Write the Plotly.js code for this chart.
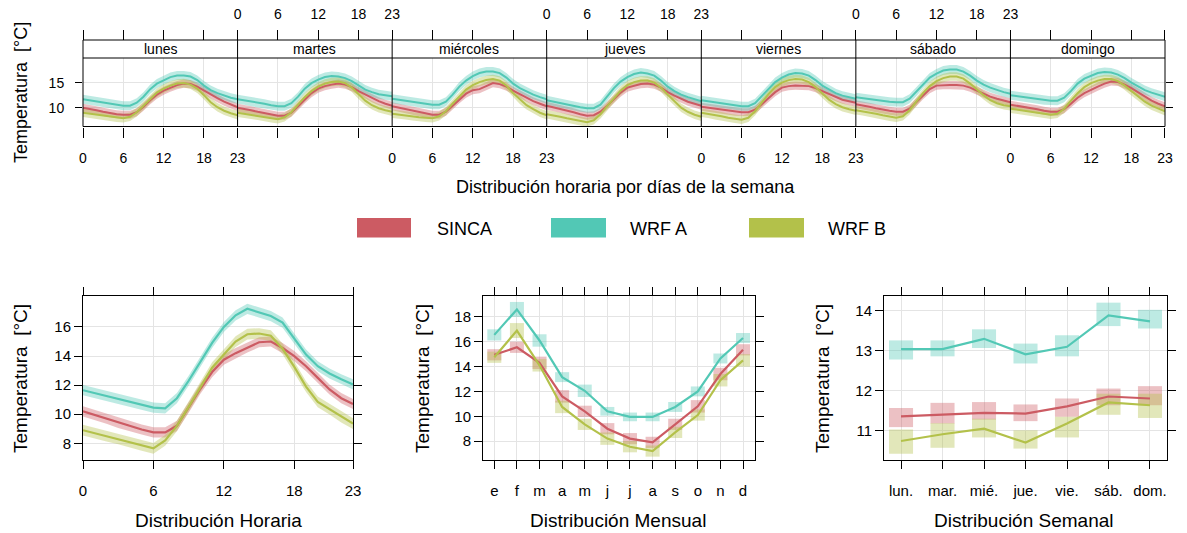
<!DOCTYPE html>
<html><head><meta charset="utf-8">
<script src="https://cdn.plot.ly/plotly-3.0.1.min.js"></script>
<style>html,body{margin:0;padding:0;background:#fff}#chart{width:1187px;height:533px}</style>
</head><body><div id="chart"></div>
<script>
// ---------------- data ----------------
const hours = [0,1,2,3,4,5,6,7,8,9,10,11,12,13,14,15,16,17,18,19,20,21,22,23];
const dayNames = ['lunes','martes','miércoles','jueves','viernes','sábado','domingo'];
const seriesNames = ['SINCA','WRF A','WRF B'];
const seriesColors = ['#CC5B63','#52C8B5','#B3C14A'];
const bandColors = ['rgba(204,91,99,0.38)','rgba(82,200,181,0.38)','rgba(179,193,74,0.38)'];

// hourly values per weekday (top panel)
const lunesSINCA = [10.0,9.8,9.5,9.2,8.9,8.7,8.6,8.6,9.1,10.2,11.5,12.6,13.4,14.0,14.5,14.8,14.7,14.2,13.4,12.6,11.9,11.2,10.6,10.1];
const lunesWRFA  = [11.7,11.5,11.3,11.0,10.8,10.6,10.4,10.4,11.0,12.2,13.7,14.8,15.5,16.1,16.4,16.4,16.2,15.5,14.4,13.5,12.9,12.4,12.0,11.7];
const lunesWRFB  = [9.0,8.8,8.6,8.4,8.2,8.0,7.9,8.2,9.1,10.4,11.8,13.0,13.8,14.4,14.8,14.9,14.6,13.8,12.5,11.1,10.1,9.4,8.9,8.5];
const martesSINCA = [10.0,9.8,9.5,9.2,8.9,8.6,8.4,8.4,9.0,10.3,11.7,12.9,13.8,14.3,14.6,14.8,14.6,14.1,13.3,12.6,11.9,11.3,10.8,10.4];
const martesWRFA  = [11.7,11.5,11.2,11.0,10.8,10.5,10.3,10.3,10.9,12.2,13.8,14.9,15.6,16.1,16.3,16.2,15.9,15.3,14.4,13.6,13.1,12.7,12.5,12.3];
const martesWRFB  = [9.0,8.8,8.6,8.4,8.2,7.9,7.7,8.1,9.1,10.6,12.1,13.3,14.2,14.8,15.1,15.2,14.9,14.0,12.6,11.4,10.5,9.9,9.5,9.2];
const miercolesSINCA = [10.3,10.0,9.7,9.4,9.1,8.8,8.6,8.6,9.2,10.4,11.7,12.8,13.5,13.7,14.3,14.9,14.7,14.2,13.4,12.7,12.0,11.3,10.8,10.3];
const miercolesWRFA  = [11.8,11.6,11.4,11.2,11.0,10.8,10.6,10.6,11.2,12.6,14.2,15.4,16.3,16.9,17.2,17.2,16.9,16.0,14.8,13.9,13.2,12.6,12.1,11.7];
const miercolesWRFB  = [8.8,8.6,8.5,8.3,8.1,8.0,7.9,8.3,9.3,10.8,12.3,13.6,14.5,15.1,15.5,15.7,15.4,14.4,12.9,11.6,10.5,9.7,9.0,8.5];
const juevesSINCA = [10.4,10.1,9.8,9.4,9.1,8.7,8.4,8.5,9.2,10.4,11.7,13.0,14.0,14.4,14.7,14.8,14.6,14.0,13.1,12.4,11.8,11.2,10.8,10.4];
const juevesWRFA  = [11.5,11.2,11.0,10.7,10.4,10.1,9.9,9.9,10.6,12.2,13.9,15.2,16.1,16.7,17.0,16.8,16.4,15.4,14.2,13.3,12.6,12.1,11.7,11.3];
const juevesWRFB  = [8.7,8.5,8.2,7.9,7.6,7.3,7.1,7.5,8.7,10.3,11.9,13.4,14.5,15.1,15.4,15.4,15.0,14.0,12.6,11.2,10.0,9.2,8.6,8.2];
const viernesSINCA = [10.2,10.0,9.8,9.6,9.4,9.2,9.1,9.1,9.6,10.7,11.9,13.1,14.0,14.3,14.4,14.4,14.3,13.9,13.3,12.7,12.1,11.6,11.3,11.0];
const viernesWRFA  = [11.5,11.3,11.1,10.9,10.7,10.5,10.3,10.3,10.9,12.3,13.8,15.1,16.0,16.6,16.9,16.8,16.4,15.5,14.4,13.6,12.9,12.4,12.1,11.8];
const viernesWRFB  = [9.0,8.8,8.5,8.3,8.0,7.8,7.6,8.0,9.3,11.0,12.7,14.1,15.0,15.5,15.7,15.6,15.1,14.1,12.8,11.6,10.7,10.1,9.7,9.4];
const sabadoSINCA = [10.7,10.5,10.2,9.9,9.6,9.4,9.2,9.2,9.8,11.1,12.5,13.7,14.4,14.5,14.5,14.5,14.4,14.0,13.4,12.8,12.2,11.8,11.4,11.1];
const sabadoWRFA  = [12.1,11.9,11.7,11.5,11.4,11.2,11.1,11.1,11.8,13.2,14.8,16.0,16.8,17.4,17.6,17.6,17.2,16.4,15.4,14.6,14.0,13.5,13.1,12.8];
const sabadoWRFB  = [9.5,9.3,9.0,8.8,8.5,8.2,8.0,8.3,9.5,11.2,12.9,14.3,15.3,15.9,16.2,16.2,15.8,14.8,13.6,12.5,11.5,10.9,10.5,10.3];
const domingoSINCA = [10.6,10.4,10.2,9.9,9.7,9.4,9.2,9.2,9.7,10.8,12.0,12.9,13.6,14.2,14.8,15.2,15.1,14.6,13.9,13.1,12.2,11.4,10.8,10.3];
const domingoWRFA  = [12.5,12.3,12.1,11.9,11.7,11.5,11.4,11.4,12.0,13.3,14.8,15.8,16.4,16.9,17.1,17.0,16.6,15.9,15.0,14.2,13.5,13.0,12.6,12.2];
const domingoWRFB  = [9.8,9.6,9.4,9.2,9.0,8.8,8.6,8.8,9.8,11.4,12.9,14.1,14.9,15.4,15.7,15.7,15.3,14.4,13.3,12.2,11.2,10.4,9.8,9.3];
const ciDay = [0.8,0.9,0.85];   // half-width of confidence band, per series

// hourly mean (bottom left)
const hourSINCA = [10.2,9.95,9.7,9.4,9.15,8.95,8.75,8.75,9.2,10.45,11.75,12.9,13.75,14.2,14.6,14.95,15.0,14.55,14.0,13.3,12.5,11.7,11.1,10.7];
const hourWRFA  = [11.65,11.45,11.25,11.05,10.85,10.65,10.45,10.4,11.1,12.3,13.6,14.9,16.0,16.8,17.25,17.0,16.75,16.3,15.2,14.1,13.3,12.8,12.4,12.05];
const hourWRFB  = [8.9,8.7,8.5,8.3,8.1,7.85,7.65,8.2,9.2,10.5,11.9,13.2,14.1,15.0,15.5,15.55,15.4,14.5,13.25,11.9,10.85,10.35,9.8,9.35];
const ciHour = [0.35,0.35,0.37];

// monthly mean (bottom centre)
const months = [1,2,3,4,5,6,7,8,9,10,11,12];
const monthLabels = ['e','f','m','a','m','j','j','a','s','o','n','d'];
const monthSINCA = [14.95,15.55,14.3,11.6,10.4,9.0,8.2,7.9,9.35,10.8,13.4,15.35];
const monthWRFA  = [16.55,18.6,16.1,13.15,12.05,10.4,9.95,9.95,10.75,12.0,14.65,16.3];
const monthWRFB  = [14.75,16.9,14.1,10.75,9.35,8.2,7.55,7.2,8.7,10.1,12.9,14.5];
const monthCiSINCA = [0.45,0.45,0.5,0.5,0.45,0.45,0.45,0.45,0.45,0.5,0.5,0.45];
const monthCiWRFA  = [0.45,0.6,0.5,0.4,0.5,0.35,0.35,0.35,0.4,0.4,0.4,0.4];
const monthCiWRFB  = [0.45,0.6,0.5,0.5,0.45,0.5,0.45,0.45,0.45,0.45,0.5,0.5];

// weekly mean (bottom right)
const weekdays = [1,2,3,4,5,6,7];
const weekLabels = ['lun.','mar.','mié.','jue.','vie.','sáb.','dom.'];
const weekSINCA = [11.35,11.40,11.44,11.42,11.60,11.85,11.80];
const weekWRFA  = [13.04,13.04,13.30,12.91,13.10,13.89,13.74];
const weekWRFB  = [10.73,10.90,11.04,10.69,11.17,11.70,11.63];
const weekLoSINCA = [11.08,11.17,11.27,11.23,11.34,11.63,11.63];
const weekHiSINCA = [11.56,11.69,11.71,11.65,11.80,12.05,12.11];
const weekLoWRFA  = [12.78,12.86,13.07,12.68,12.86,13.62,13.56];
const weekHiWRFA  = [13.26,13.26,13.54,13.18,13.39,14.21,14.03];
const weekLoWRFB  = [10.41,10.56,10.82,10.54,10.82,11.39,11.31];
const weekHiWRFB  = [11.02,11.18,11.29,11.00,11.34,11.92,11.92];

// ---------------- layout helpers ----------------
const W = 1187, H = 533;
const px = v => v / W;
const py = v => 1 - v / H;
const FONT = 'Liberation Sans, Arial, sans-serif';
const GRID = '#e4e4e4';

const dayData = [
  [lunesSINCA, lunesWRFA, lunesWRFB],
  [martesSINCA, martesWRFA, martesWRFB],
  [miercolesSINCA, miercolesWRFA, miercolesWRFB],
  [juevesSINCA, juevesWRFA, juevesWRFB],
  [viernesSINCA, viernesWRFA, viernesWRFB],
  [sabadoSINCA, sabadoWRFA, sabadoWRFB],
  [domingoSINCA, domingoWRFA, domingoWRFB]
];

function band(xs, vals, ciArr, xa, ya, color) {
  const up = vals.map((v, k) => v + ciArr[k]);
  const lo = vals.map((v, k) => v - ciArr[k]);
  return {type:'scatter', mode:'lines', x: xs.concat(xs.slice().reverse()),
    y: up.concat(lo.slice().reverse()), fill:'toself', fillcolor: color,
    line:{width:0}, xaxis: xa, yaxis: ya, hoverinfo:'skip', showlegend:false};
}
function line(xs, vals, xa, ya, color, w) {
  return {type:'scatter', mode:'lines', x: xs, y: vals, line:{color: color, width: w || 2},
    xaxis: xa, yaxis: ya, hoverinfo:'skip', showlegend:false};
}
function rects(xs, lo, hi, xa, ya, color, wd) {
  return {type:'bar', x: xs, base: lo, y: hi.map((h, k) => h - lo[k]), width: wd,
    marker:{color: color, line:{width:0}}, xaxis: xa, yaxis: ya, hoverinfo:'skip', showlegend:false};
}

const traces = [];
const layout = {
  width: W, height: H, margin:{l:0,r:0,t:0,b:0}, paper_bgcolor:'#fff', plot_bgcolor:'rgba(0,0,0,0)',
  font:{family: FONT, color:'#000', size:14}, showlegend:false, hovermode:false, barmode:'overlay',
  shapes: [], annotations: []
};

// ---------------- top panel (by weekday) ----------------
const TL = 83, TR = 1165, TSTRIP = 40, TTOP = 58, TBOT = 126.5;
const pw = (TR - TL) / 7;
const hourTicks = [0,6,12,18,23];

layout.yaxis = {domain:[py(TBOT), py(TTOP)], anchor:'x', range:[6.26,19.9], tickvals:[10,15],
  ticks:'outside', ticklen:7, tickcolor:'#000', tickfont:{size:14}, ticklabelstandoff:8,
  showgrid:true, gridcolor:GRID, zeroline:false, showline:false, fixedrange:true};
layout.yaxis2 = {overlaying:'y', anchor:'free', position: px(TR), side:'right', domain:[py(TBOT), py(TTOP)],
  range:[6.26,19.9], tickvals:[10,15], ticks:'outside', ticklen:7, tickcolor:'#000',
  showticklabels:false, showgrid:false, zeroline:false, showline:false, fixedrange:true};

for (let i = 0; i < 7; i++) {
  const dom = [px(TL + i * pw), px(TL + (i + 1) * pw)];
  const xb = 'x' + (i ? i + 1 : '');
  const xbKey = 'xaxis' + (i ? i + 1 : '');
  const xt = 'x' + (8 + i);
  const xtKey = 'xaxis' + (8 + i);
  layout[xbKey] = {domain: dom, anchor:'y', range:[0,23], tickvals: hourTicks, ticks:'outside', ticklen:10,
    tickcolor:'#000', showticklabels: i % 2 === 0, tickfont:{size:14}, ticklabelstandoff:9,
    showgrid:true, gridcolor:GRID, zeroline:false, showline:false, fixedrange:true};
  layout[xtKey] = {overlaying: xb, anchor:'free', position: py(TSTRIP), side:'top', domain: dom, range:[0,23],
    tickvals: hourTicks, ticks:'outside', ticklen:10, tickcolor:'#000', showticklabels: i % 2 === 1,
    tickfont:{size:14}, ticklabelstandoff:5, showgrid:false, zeroline:false, showline:false, fixedrange:true};
  for (let s = 0; s < 3; s++) {
    traces.push(band(hours, dayData[i][s], hours.map(() => ciDay[s]), xb, 'y', bandColors[s]));
  }
  for (let s = 0; s < 3; s++) {
    traces.push(line(hours, dayData[i][s], xt, i === 6 ? 'y2' : 'y', seriesColors[s], 2));
  }
  layout.annotations.push({xref:'paper', yref:'paper', x: px(TL + (i + 0.5) * pw), y: py((TSTRIP + TTOP) / 2),
    text: dayNames[i], showarrow:false, font:{size:14, color:'#000'}, xanchor:'center', yanchor:'middle'});
  if (i > 0) layout.shapes.push({type:'line', xref:'paper', yref:'paper', x0: px(TL + i * pw), x1: px(TL + i * pw),
    y0: py(TSTRIP), y1: py(TBOT), line:{color:'#000', width:1}, layer:'above'});
}
layout.shapes.push({type:'rect', xref:'paper', yref:'paper', x0: px(TL), x1: px(TR), y0: py(TBOT), y1: py(TSTRIP),
  line:{color:'#000', width:1}, layer:'above'});
layout.shapes.push({type:'line', xref:'paper', yref:'paper', x0: px(TL), x1: px(TR), y0: py(TTOP), y1: py(TTOP),
  line:{color:'#000', width:1}, layer:'above'});
layout.annotations.push({xref:'paper', yref:'paper', x: px(625), y: py(187), text:'Distribución horaria por días de la semana',
  showarrow:false, font:{size:18}, xanchor:'center', yanchor:'middle'});
layout.annotations.push({xref:'paper', yref:'paper', x: px(21), y: py(93), text:'Temperatura \u00a0[°C]',
  textangle:-90, showarrow:false, font:{size:18}, xanchor:'center', yanchor:'middle'});

// ---------------- legend ----------------
const legRect = [[357,411],[551,606],[749,804]];
const legText = [435, 628, 826];
for (let s = 0; s < 3; s++) {
  layout.shapes.push({type:'rect', xref:'paper', yref:'paper', x0: px(legRect[s][0]), x1: px(legRect[s][1]),
    y0: py(237.5), y1: py(218), fillcolor: seriesColors[s], line:{width:0}});
  layout.annotations.push({xref:'paper', yref:'paper', x: px(legText[s]), y: py(229), text: seriesNames[s],
    showarrow:false, font:{size:18}, xanchor:'left', yanchor:'middle'});
}

// ---------------- bottom panels ----------------
function frameAxis(extra) {
  return Object.assign({ticks:'outside', ticklen:8, tickcolor:'#000', tickfont:{size:15},
    showgrid:true, gridcolor:GRID, zeroline:false, showline:true, linecolor:'#000', linewidth:1,
    mirror:'ticks', fixedrange:true}, extra);
}
const BT = 296, BB = 460;
// hourly
layout.xaxis15 = frameAxis({domain:[px(83), px(353)], anchor:'y3', range:[0,23], tickvals: hourTicks, ticklabelstandoff:9});
layout.yaxis3  = frameAxis({domain:[py(BB), py(BT)], anchor:'x15', range:[6.85,18.13], tickvals:[8,10,12,14,16]});
const hourCi = s => hours.map(() => ciHour[s]);
const hourVals = [hourSINCA, hourWRFA, hourWRFB];
for (let s = 0; s < 3; s++) traces.push(band(hours, hourVals[s], hourCi(s), 'x15', 'y3', bandColors[s]));
for (let s = 0; s < 3; s++) traces.push(line(hours, hourVals[s], 'x15', 'y3', seriesColors[s], 2.2));

// monthly
layout.xaxis16 = frameAxis({domain:[px(483), px(755)], anchor:'y4', range:[0.5,12.53], tickvals: months, ticktext: monthLabels, ticklabelstandoff:9});
layout.yaxis4  = frameAxis({domain:[py(BB), py(BT)], anchor:'x16', range:[6.48,19.68], tickvals:[8,10,12,14,16,18]});
const monthVals = [monthSINCA, monthWRFA, monthWRFB];
const monthCis = [monthCiSINCA, monthCiWRFA, monthCiWRFB];
for (let s = 0; s < 3; s++) traces.push(rects(months, monthVals[s].map((v,k)=>v-monthCis[s][k]), monthVals[s].map((v,k)=>v+monthCis[s][k]), 'x16', 'y4', bandColors[s], 0.62));
for (let s = 0; s < 3; s++) traces.push(line(months, monthVals[s], 'x16', 'y4', seriesColors[s], 2.2));

// weekly
layout.xaxis17 = frameAxis({domain:[px(884), px(1167)], anchor:'y5', range:[0.59,7.41], tickvals: weekdays, ticktext: weekLabels, ticklabelstandoff:9});
layout.yaxis5  = frameAxis({domain:[py(BB), py(BT)], anchor:'x17', range:[10.253,14.377], tickvals:[11,12,13,14]});
const weekVals = [weekSINCA, weekWRFA, weekWRFB];
const weekLo = [weekLoSINCA, weekLoWRFA, weekLoWRFB];
const weekHi = [weekHiSINCA, weekHiWRFA, weekHiWRFB];
for (let s = 0; s < 3; s++) traces.push(rects(weekdays, weekLo[s], weekHi[s], 'x17', 'y5', bandColors[s], 0.58));
for (let s = 0; s < 3; s++) traces.push(line(weekdays, weekVals[s], 'x17', 'y5', seriesColors[s], 2.2));

// bottom titles
const yTitleX = [20, 422, 822];
const xTitleX = [218, 618, 1024];
const xTitles = ['Distribución Horaria', 'Distribución Mensual', 'Distribución Semanal'];
for (let k = 0; k < 3; k++) {
  layout.annotations.push({xref:'paper', yref:'paper', x: px(yTitleX[k]), y: py(379), text:'Temperatura \u00a0[°C]',
    textangle:-90, showarrow:false, font:{size:19}, xanchor:'center', yanchor:'middle'});
  layout.annotations.push({xref:'paper', yref:'paper', x: px(xTitleX[k]), y: py(520), text: xTitles[k],
    showarrow:false, font:{size:19}, xanchor:'center', yanchor:'middle'});
}

Plotly.newPlot('chart', traces, layout, {staticPlot:true, displayModeBar:false});
</script>
</body></html>
